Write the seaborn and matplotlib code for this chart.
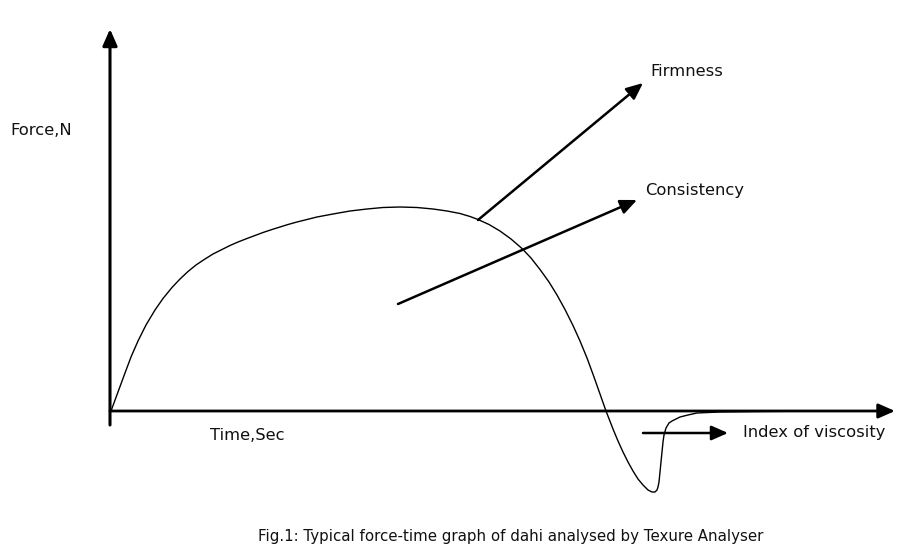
import matplotlib
matplotlib.use("Agg")
import matplotlib.pyplot as plt
import seaborn as sns
import pandas as pd

# force-time curve (time in s, force in N, arbitrary scale)
time_s = [0.1, 0.8, 1.5, 2.1, 2.8, 3.6, 4.5, 5.3, 6.2, 7.0, 7.8, 8.6, 9.5, 10.3,
          11.2, 12.0, 12.8, 13.7, 14.5, 15.3, 16.2, 17.0, 17.8, 18.7, 19.5, 20.7,
          22.3, 24.0, 25.7, 27.3, 29.0, 30.7, 32.3, 33.7, 35.0, 36.0, 36.8, 37.9,
          39.0, 40.1, 41.2, 42.1, 43.0, 43.9, 44.7, 45.5, 46.3, 47.0, 47.7, 48.4,
          49.0, 49.6, 50.3, 50.8, 51.3, 51.8, 52.3, 52.8, 53.3, 53.8, 54.2,
          54.5, 54.7, 54.8, 54.9, 55.0, 55.1, 55.2, 55.3, 55.4, 55.6, 55.9, 56.2,
          56.6, 57.0, 57.8, 58.7, 59.8, 61.0, 65.0, 72.0]
force_n = [0.0, 1.9, 3.8, 5.4, 7.0, 8.6, 10.1, 11.25, 12.35, 13.2, 13.95, 14.6, 15.2, 15.7,
           16.15, 16.55, 16.9, 17.25, 17.55, 17.85, 18.15, 18.4, 18.65, 18.9, 19.1, 19.4,
           19.7, 20.0, 20.2, 20.35, 20.4, 20.35, 20.2, 20.0, 19.75, 19.45, 19.15, 18.65,
           18.0, 17.2, 16.25, 15.3, 14.15, 12.9, 11.6, 10.15, 8.55, 7.0, 5.3, 3.4,
           1.7, 0.0, -1.8, -3.0, -4.1, -5.1, -6.0, -6.8, -7.4, -7.9, -8.1,
           -8.1, -7.9, -7.6, -7.1, -6.1, -5.1, -4.1, -3.1, -2.4, -1.7, -1.2, -1.0,
           -0.8, -0.6, -0.4, -0.2, -0.15, -0.1, -0.05, 0.0]

# annotation arrows (start, end) in the same units
firmness_arrow = [(36.8, 19.1), (53.3, 32.8)]
consistency_arrow = [(28.8, 10.7), (52.7, 21.1)]
viscosity_arrow = [(53.3, -2.2), (61.8, -2.2)]

axis_x_end = 78.5
axis_y_bottom = -1.4
axis_y_top = 38.2

caption = "Fig.1: Typical force-time graph of dahi analysed by Texure Analyser"

df = pd.DataFrame({"time": time_s, "force": force_n})

sns.set_theme(style="white")
plt.rcParams["font.family"] = ["DejaVu Sans"]

fig = plt.figure(figsize=(9.07, 5.48), dpi=100)
ax = fig.add_axes([0, 0, 1, 1])

sns.lineplot(data=df, x="time", y="force", sort=False, color="black",
             linewidth=1.0, ax=ax)
ax.lines[0].set_solid_joinstyle("round")

head = "-|>,head_length=0.5,head_width=0.22"

# axes drawn as arrows
ax.annotate("", xy=(0, axis_y_top), xytext=(0, axis_y_bottom),
            arrowprops=dict(arrowstyle=head, color="black", lw=2.2,
                            mutation_scale=20, shrinkA=0, shrinkB=0))
ax.annotate("", xy=(axis_x_end, 0), xytext=(0, 0),
            arrowprops=dict(arrowstyle=head, color="black", lw=2.0,
                            mutation_scale=20, shrinkA=0, shrinkB=0))

for start, end in [firmness_arrow, consistency_arrow, viscosity_arrow]:
    ax.annotate("", xy=end, xytext=start,
                arrowprops=dict(arrowstyle=head, color="black", lw=1.8,
                                mutation_scale=20, shrinkA=0, shrinkB=0))

txt = dict(fontsize=11.8, color="#111111", va="center", ha="left")
ax.text(-10.0, 28.0, "Force,N", **txt)
ax.text(10.0, -2.4, "Time,Sec", **txt)
ax.text(54.0, 33.9, "Firmness", **txt)
ax.text(53.5, 22.0, "Consistency", **txt)
ax.text(63.3, -2.2, "Index of viscosity", **txt)
ax.text(40.1, -12.5, caption, fontsize=10.8, color="#111111",
        ha="center", va="center")

ax.set_xlim(-11.0, 79.7)
ax.set_ylim(-13.7, 41.1)
ax.set_axis_off()

plt.savefig("out.png", dpi=100)
